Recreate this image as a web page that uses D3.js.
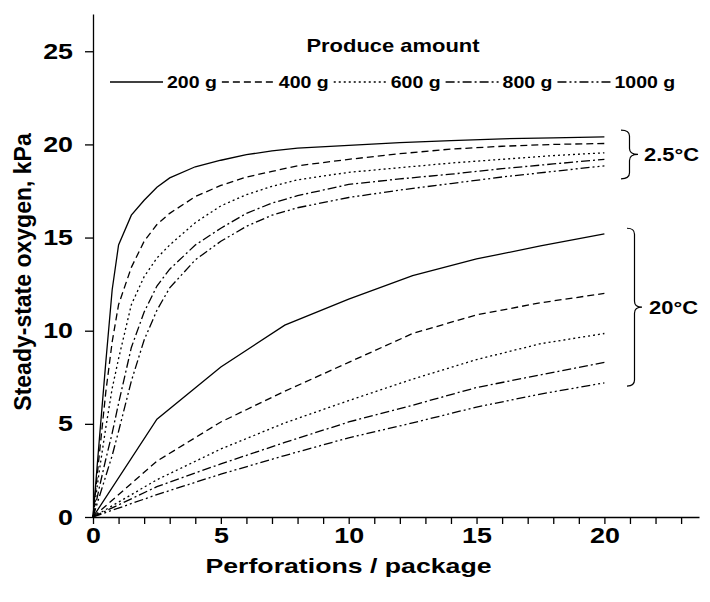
<!DOCTYPE html>
<html>
<head>
<meta charset="utf-8">
<script src="https://cdn.jsdelivr.net/npm/d3@7"></script>
<style>
  body { margin: 0; background: #fff; }
  svg { display: block; }
  text { font-family: "Liberation Sans", Arial, sans-serif; font-weight: bold; fill: #000; }
</style>
</head>
<body>
<svg id="chart" width="710" height="602"></svg>
<script>
// Perforations per package (x) and steady-state O2 (kPa) for each produce amount
const perfCold = [0, 0.25, 0.5, 0.75, 1, 1.5, 2, 2.5, 3, 4, 5, 6, 7, 8, 10, 12, 14, 16, 18, 20];
const cold200  = [0, 4.2, 8.3, 12.2, 14.6, 16.2, 17.0, 17.7, 18.2, 18.8, 19.15, 19.45, 19.65, 19.8, 19.95, 20.1, 20.2, 20.3, 20.35, 20.4];
const cold400  = [0, 3.4, 6.7, 9.4, 11.4, 13.4, 14.8, 15.7, 16.3, 17.2, 17.8, 18.25, 18.55, 18.85, 19.2, 19.5, 19.75, 19.9, 20.0, 20.05];
const cold600  = [0, 2.5, 4.8, 6.9, 8.5, 11.4, 12.9, 13.9, 14.6, 15.8, 16.7, 17.3, 17.75, 18.1, 18.5, 18.75, 19.0, 19.2, 19.4, 19.55];
const cold800  = [0, 1.6, 3.1, 4.5, 6.1, 9.1, 11.0, 12.4, 13.3, 14.6, 15.5, 16.3, 16.85, 17.25, 17.85, 18.15, 18.4, 18.7, 18.95, 19.2];
const cold1000 = [0, 1.1, 2.2, 3.3, 4.6, 7.3, 9.5, 11.1, 12.3, 13.8, 14.8, 15.6, 16.2, 16.6, 17.15, 17.55, 17.9, 18.25, 18.55, 18.85];

const perfWarm = [0, 2.5, 5, 7.5, 10, 12.5, 15, 17.5, 20];
const warm200  = [0, 5.25, 8.05, 10.3, 11.7, 12.95, 13.85, 14.55, 15.2];
const warm400  = [0, 3.0, 5.1, 6.75, 8.3, 9.85, 10.85, 11.5, 12.0];
const warm600  = [0, 2.0, 3.65, 5.05, 6.25, 7.4, 8.45, 9.3, 9.85];
const warm800  = [0, 1.63, 2.85, 4.0, 5.1, 6.0, 6.95, 7.63, 8.3];
const warm1000 = [0, 1.2, 2.3, 3.3, 4.25, 5.05, 5.9, 6.6, 7.2];

const amounts = ["200 g", "400 g", "600 g", "800 g", "1000 g"];
const coldSeries = [cold200, cold400, cold600, cold800, cold1000];
const warmSeries = [warm200, warm400, warm600, warm800, warm1000];

const yTicks = [0, 5, 10, 15, 20, 25];
const xLabelTicks = [0, 5, 10, 15, 20];

// Temperature groups, bracketed by their O2 range at the right end
const groupLabels = ["2.5°C", "20°C"];
const groupRanges = [[18.15, 20.77], [7.03, 15.5]];

// line style for each produce amount
const dashes = [null, "7,4", "2,3", "9,3,2,3", "9,3,2,3,2,3"];

const STRETCH = 1.22;   // horizontal text width factor

const svg = d3.select("#chart");
const x = d3.scaleLinear().domain([0, 23.7]).range([93, 699]);
const y = d3.scaleLinear().domain([0, 27]).range([517, 14]);

const line = d3.line().x(d => x(d[0])).y(d => y(d[1]));

function drawGroup(xs, series) {
  series.forEach((vals, i) => {
    svg.append("path")
      .datum(xs.map((v, j) => [v, vals[j]]))
      .attr("d", line)
      .attr("fill", "none")
      .attr("stroke", "#000")
      .attr("stroke-width", 1.3)
      .attr("stroke-dasharray", dashes[i]);
  });
}
drawGroup(perfCold, coldSeries);
drawGroup(perfWarm, warmSeries);

// axes
const xAxis = d3.axisBottom(x)
  .tickValues(d3.range(0, 24, 1))
  .tickSize(7).tickSizeOuter(0)
  .tickPadding(3)
  .tickFormat(d => xLabelTicks.includes(d) ? d : "");
const gx = svg.append("g").attr("transform", `translate(0,${y(0)})`).call(xAxis);

const yAxis = d3.axisLeft(y)
  .tickValues(yTicks)
  .tickSize(8).tickSizeOuter(0)
  .tickFormat(d => d);
const gy = svg.append("g").attr("transform", `translate(${x(0)},0)`).call(yAxis);

[gx, gy].forEach(g => {
  g.selectAll(".domain, .tick line").attr("stroke", "#000").attr("stroke-width", 1.3);
  g.selectAll("text").attr("font-family", null).style("font-size", "22px");
});
gx.selectAll(".tick text").attr("transform", `scale(${STRETCH},1)`);
gy.selectAll(".tick text").attr("x", 0).attr("transform", `translate(-20,0) scale(${STRETCH},1)`);

function stretched(px, py, str, size, anchor, k) {
  return svg.append("text")
    .attr("transform", `translate(${px},${py}) scale(${k || STRETCH},1)`)
    .attr("text-anchor", anchor || "start")
    .style("font-size", size + "px")
    .text(str);
}

// axis titles
stretched((x(0) + 604) / 2, 573, "Perforations / package", 21, "middle", 1.27);
svg.append("text")
  .attr("transform", `translate(31,272) rotate(-90)`)
  .attr("text-anchor", "middle")
  .style("font-size", "23px")
  .text("Steady-state oxygen, kPa");

// legend
stretched(393, 52, "Produce amount", 18, "middle");
let lx = 110;
const ly = 82, segLen = 53;
amounts.forEach((name, i) => {
  svg.append("line")
    .attr("x1", lx).attr("x2", lx + segLen).attr("y1", ly).attr("y2", ly)
    .attr("stroke", "#000").attr("stroke-width", 1.3)
    .attr("stroke-dasharray", dashes[i]);
  const t = stretched(lx + segLen + 4, ly + 6, name, 16);
  lx += segLen + 4 + t.node().getBBox().width * STRETCH + 5;
});

// curly braces for the temperature groups
function bracePath(bx, y0, y1, w) {
  const m = (y0 + y1) / 2, h = w / 2, r = 6;
  return `M${bx},${y0} Q${bx + h},${y0} ${bx + h},${y0 + r} L${bx + h},${m - r} ` +
         `Q${bx + h},${m} ${bx + w},${m} Q${bx + h},${m} ${bx + h},${m + r} ` +
         `L${bx + h},${y1 - r} Q${bx + h},${y1} ${bx},${y1}`;
}
const braceX = [621, 627], braceW = [17, 15], labelX = [644, 649];
groupRanges.forEach((rng, i) => {
  const y0 = y(rng[1]), y1 = y(rng[0]);
  svg.append("path")
    .attr("d", bracePath(braceX[i], y0, y1, braceW[i]))
    .attr("fill", "none").attr("stroke", "#000").attr("stroke-width", 1.2);
  stretched(labelX[i], (y0 + y1) / 2 + 6.5, groupLabels[i], 18);
});
</script>
</body>
</html>
